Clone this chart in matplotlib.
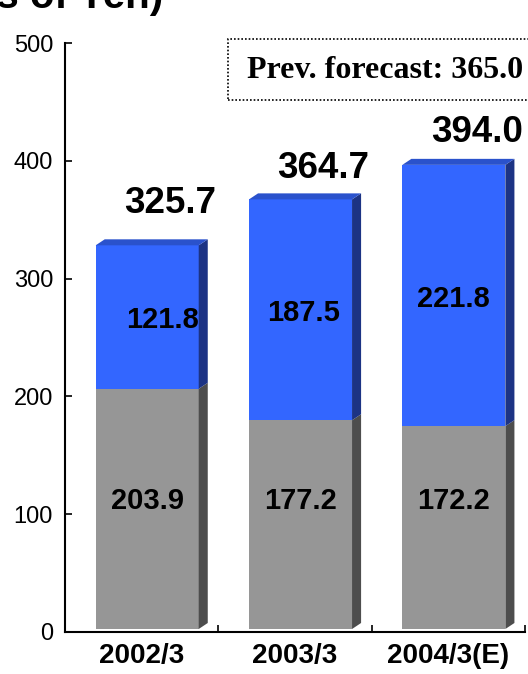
import matplotlib
matplotlib.use("Agg")
import matplotlib.pyplot as plt
from matplotlib.patches import Rectangle
from matplotlib.transforms import ScaledTranslation

# ---- data -------------------------------------------------------------
categories = ["2002/3", "2003/3", "2004/3(E)"]
lower_values = [203.9, 177.2, 172.2]   # grey segment
upper_values = [121.8, 187.5, 221.8]   # blue segment
totals = [325.7, 364.7, 394.0]
y_ticks = [0, 100, 200, 300, 400, 500]
title_text = "(Billions of Yen)"
note_text = "Prev. forecast: 365.0"

# ---- styling / layout -------------------------------------------------
grey_front, grey_side = "#969696", "#4d4d4d"
blue_front, blue_side, blue_top = "#3366ff", "#1c3384", "#2a52cc"
bar_start, bar_width = 0.20, 0.672      # front face, in category units
depth_x, depth_y = 0.059, 5.1           # 3-D depth offset (x units, y units)
lower_label_y = 111
upper_label_dx = [0.10, 0.02, 0.0]
total_label_dx = 0.15
total_label_dy = [38, 29, 30]

W, H, DPI = 528, 674, 100
fig = plt.figure(figsize=(W / DPI, H / DPI), dpi=DPI)
ax = fig.add_axes([65 / W, (H - 632) / H, 460 / W, (632 - 43) / H])
ax.set_xlim(0, len(categories))
ax.set_ylim(0, 500)

# bars sit a few pixels above the floor line
lift = ax.transData + ScaledTranslation(0, 3 / DPI, fig.dpi_scale_trans)

sans = "Liberation Sans"
for i, (lo, hi, tot) in enumerate(zip(lower_values, upper_values, totals)):
    x0 = i + bar_start
    x1 = x0 + bar_width
    ax.bar(x0, lo, width=bar_width, bottom=0, align="edge", color=grey_front,
           transform=lift, zorder=2)
    ax.bar(x0, hi, width=bar_width, bottom=lo, align="edge", color=blue_front,
           transform=lift, zorder=2)
    # side faces
    for y0, y1, c in [(0, lo, grey_side), (lo, lo + hi, blue_side)]:
        ax.fill([x1, x1 + depth_x, x1 + depth_x, x1],
                [y0, y0 + depth_y, y1 + depth_y, y1],
                color=c, transform=lift, zorder=2, lw=0)
    # top face
    top = lo + hi
    ax.fill([x0, x0 + depth_x, x1 + depth_x, x1],
            [top, top + depth_y, top + depth_y, top],
            color=blue_top, transform=lift, zorder=2, lw=0)

    cx = x0 + bar_width / 2
    ax.text(cx, lower_label_y, f"{lo:.1f}", ha="center", va="center",
            fontsize=21, fontweight="bold", family=sans, zorder=3)
    ax.text(cx + upper_label_dx[i], lo + hi / 2, f"{hi:.1f}", ha="center",
            va="center", fontsize=21, fontweight="bold", family=sans, zorder=3)
    ax.text(cx + total_label_dx, tot + total_label_dy[i], f"{tot:.1f}",
            ha="center", va="center", fontsize=26.5, fontweight="bold",
            family=sans, zorder=3)

# axes
for s in ["top", "right"]:
    ax.spines[s].set_visible(False)
for s in ["left", "bottom"]:
    ax.spines[s].set_linewidth(1.5)
ax.set_yticks(y_ticks)
ax.set_yticklabels([str(v) for v in y_ticks], fontsize=17, family=sans)
ax.tick_params(axis="y", direction="in", length=5, width=1.2, pad=8.6)
ax.set_xticks([i + 0.5 for i in range(len(categories))])
ax.set_xticklabels(categories, fontsize=20, fontweight="bold", family=sans)
ax.set_xticks(range(1, len(categories) + 1), minor=True)
ax.tick_params(axis="x", which="major", length=0, pad=8)
ax.tick_params(axis="x", which="minor", direction="in", length=5, width=1.2)
ax.set_clip_on(False)

# title (partly above the top edge)
fig.text(163 / W, 1 - 8.5 / H, title_text, ha="right", va="baseline",
         fontsize=29, fontweight="bold", family=sans)

# dotted note box
fig.patches.append(Rectangle((228 / W, (H - 100) / H), 320 / W, 61 / H,
                             transform=fig.transFigure, fill=False,
                             edgecolor="black", lw=1.2,
                             linestyle=(0, (1, 1.2))))
fig.text(247 / W, (H - 70) / H, note_text, ha="left", va="center",
         fontsize=23, fontweight="bold", family="Liberation Serif")

fig.savefig("out.png", dpi=DPI)
